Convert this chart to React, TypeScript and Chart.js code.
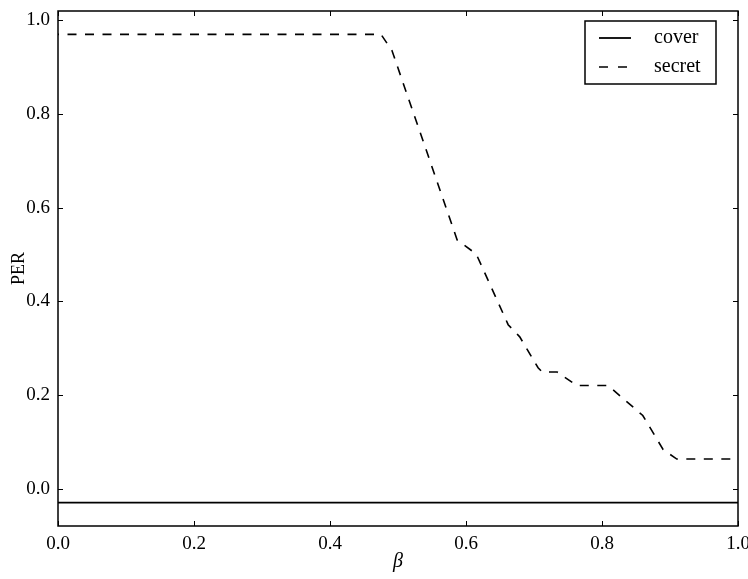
import React, { useEffect, useRef } from "react";
import { Chart, registerables } from "chart.js";

Chart.register(...registerables);

const betaValues = [0, 0.475, 0.491, 0.587, 0.615, 0.662, 0.679, 0.706, 0.712, 0.734, 0.763, 0.809, 0.86, 0.89, 0.91, 1.0];
const secretValues = [0.97, 0.97, 0.936, 0.531, 0.501, 0.35, 0.324, 0.258, 0.249, 0.249, 0.22, 0.22, 0.156, 0.083, 0.063, 0.063];
const coverBeta = [0, 1];
const coverValues = [-0.03, -0.03];
const xTicks = [0, 0.2, 0.4, 0.6, 0.8, 1.0];
const yTicks = [0, 0.2, 0.4, 0.6, 0.8, 1.0];
const seriesLabels = ["cover", "secret"];

const FONT = "'Liberation Serif', 'DejaVu Serif', serif";

const framePlugin = {
  id: "frame",
  afterDraw(chart: any) {
    const { ctx, chartArea } = chart;
    const { left, right, top, bottom } = chartArea;
    const xs = chart.scales.x;
    const ys = chart.scales.y;
    ctx.save();
    ctx.strokeStyle = "#000";
    ctx.lineWidth = 1.5;
    ctx.strokeRect(left, top, right - left, bottom - top);
    ctx.lineWidth = 1;
    const tl = 5;
    ctx.beginPath();
    xTicks.forEach((v) => {
      const px = Math.round(xs.getPixelForValue(v)) + 0.5;
      ctx.moveTo(px, bottom);
      ctx.lineTo(px, bottom - tl);
      ctx.moveTo(px, top);
      ctx.lineTo(px, top + tl);
    });
    yTicks.forEach((v) => {
      const py = Math.round(ys.getPixelForValue(v)) + 0.5;
      ctx.moveTo(left, py);
      ctx.lineTo(left + tl, py);
      ctx.moveTo(right, py);
      ctx.lineTo(right - tl, py);
    });
    ctx.stroke();

    // legend box
    const bw = 131;
    const bh = 63;
    const bx = right - 22 - bw;
    const by = top + 10;
    ctx.fillStyle = "#fff";
    ctx.fillRect(bx, by, bw, bh);
    ctx.lineWidth = 1.5;
    ctx.strokeRect(bx, by, bw, bh);
    chart.data.datasets.forEach((ds: any, i: number) => {
      const cy = by + 17 + i * 29;
      ctx.save();
      ctx.strokeStyle = "#000";
      ctx.lineWidth = ds.borderWidth;
      ctx.setLineDash(ds.borderDash ? [9, 10] : []);
      ctx.beginPath();
      ctx.moveTo(bx + 14, cy);
      ctx.lineTo(bx + (ds.borderDash ? 42 : 46), cy);
      ctx.stroke();
      ctx.restore();
      ctx.fillStyle = "#000";
      ctx.font = `20px ${FONT}`;
      ctx.textBaseline = "middle";
      ctx.textAlign = "left";
      ctx.fillText(ds.label, bx + 69, cy);
    });
    ctx.restore();
  },
};

export default function App() {
  const ref = useRef<HTMLCanvasElement>(null);
  useEffect(() => {
    if (!ref.current) return;
    const chart = new Chart(ref.current, {
      type: "line",
      data: {
        datasets: [
          {
            label: seriesLabels[0],
            data: coverBeta.map((x, i) => ({ x, y: coverValues[i] })),
            borderColor: "#000",
            borderWidth: 1.8,
            pointRadius: 0,
            fill: false,
          },
          {
            label: seriesLabels[1],
            data: betaValues.map((x, i) => ({ x, y: secretValues[i] })),
            borderColor: "#000",
            borderWidth: 1.6,
            borderDash: [9, 8.5],
            borderDashOffset: 8,
            borderCapStyle: "butt",
            pointRadius: 0,
            fill: false,
            tension: 0,
          },
        ],
      },
      options: {
        responsive: false,
        animation: false,
        events: [],
        layout: { padding: { top: 11, right: 10, left: 0, bottom: 0 }, autoPadding: false } as any,
        plugins: { legend: { display: false }, tooltip: { enabled: false } },
        scales: {
          x: {
            type: "linear",
            min: 0,
            max: 1,
            grid: { display: false, drawTicks: false },
            border: { display: false },
            afterBuildTicks: (s: any) => {
              s.ticks = xTicks.map((v) => ({ value: v }));
            },
            afterFit: (s: any) => {
              s.height = 53;
              s.paddingLeft = 0;
              s.paddingRight = 0;
              s.paddingTop = 0;
              s.paddingBottom = 0;
            },
            ticks: {
              color: "#000",
              font: { family: FONT, size: 19 },
              padding: 7,
              maxRotation: 0,
              callback: (v: any) => Number(v).toFixed(1),
            },
            title: {
              display: true,
              text: "β",
              color: "#000",
              font: { family: FONT, size: 20, style: "italic" },
              padding: { top: 0, bottom: 5 },
            },
          },
          y: {
            type: "linear",
            min: -0.08,
            max: 1.02,
            grid: { display: false, drawTicks: false },
            border: { display: false },
            afterBuildTicks: (s: any) => {
              s.ticks = yTicks.map((v) => ({ value: v }));
            },
            afterFit: (s: any) => {
              s.width = 58;
              s.paddingLeft = 0;
              s.paddingRight = 0;
              s.paddingTop = 0;
              s.paddingBottom = 0;
            },
            ticks: {
              color: "#000",
              font: { family: FONT, size: 19 },
              padding: 8,
              callback: (v: any) => Number(v).toFixed(1),
            },
            title: {
              display: true,
              text: "PER",
              color: "#000",
              font: { family: FONT, size: 18 },
              padding: { top: 8, bottom: 0 },
            },
          },
        },
      },
      plugins: [framePlugin],
    });
    return () => chart.destroy();
  }, []);
  return (
    <div style={{ position: "fixed", left: 0, top: 0, width: 748, height: 579, background: "#fff" }}>
      <canvas ref={ref} width={748} height={579} style={{ display: "block" }} />
    </div>
  );
}
